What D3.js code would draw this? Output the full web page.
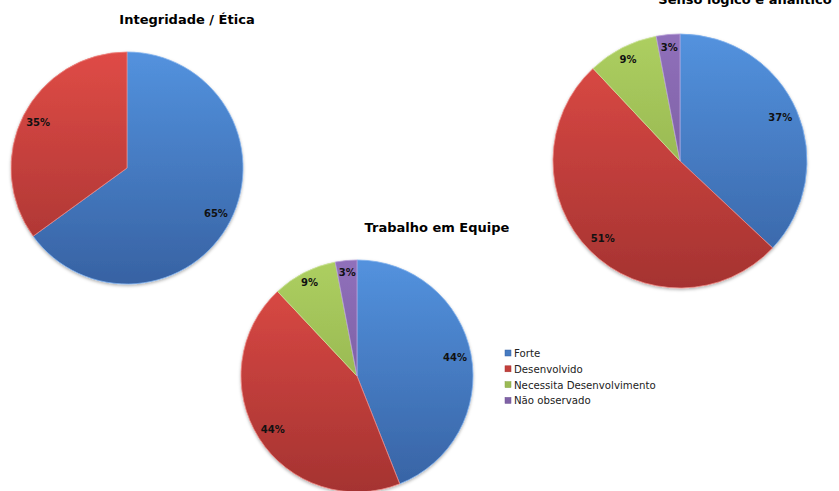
<!DOCTYPE html>
<html>
<head>
<meta charset="utf-8">
<script src="https://cdn.jsdelivr.net/npm/d3@7"></script>
<style>
  body { margin: 0; background: #fff; }
  svg { display: block; }
</style>
</head>
<body>
<svg id="chart" width="839" height="491"></svg>
<script>
// data
var categories = ["Forte", "Desenvolvido", "Necessita Desenvolvimento", "Não observado"];
var titles = ["Integridade / Ética", "Senso lógico e analítico", "Trabalho em Equipe"];
var integridadeValues = [65, 35, 0, 0];
var sensoValues = [37, 51, 9, 3];
var trabalhoValues = [44, 44, 9, 3];

// colours: [top, bottom, edge]
var palette = [
    ["#5392de", "#3762a3", "#7fb0ee"],
    ["#df4b46", "#a53331", "#ee8682"],
    ["#adcf60", "#87a548", "#cce39a"],
    ["#9070bb", "#6d5290", "#b8a0d8"]
];

var svg = d3.select("#chart");
var defs = svg.append("defs");

var shadow = defs.append("filter").attr("id", "shadow")
    .attr("x", "-10%").attr("y", "-10%").attr("width", "120%").attr("height", "120%");
shadow.append("feDropShadow")
    .attr("dx", 0).attr("dy", 1.5).attr("stdDeviation", 1.5)
    .attr("flood-color", "#000").attr("flood-opacity", 0.3);

// layout of the three pies
var pies = [
    {title: titles[0], values: integridadeValues, cx: 127, cy: 168, r: 116, tx: 187, ty: 24},
    {title: titles[1], values: sensoValues, cx: 680, cy: 161, r: 127, tx: 745, ty: 4},
    {title: titles[2], values: trabalhoValues, cx: 357, cy: 376, r: 116, tx: 437, ty: 232}
];

var pie = d3.pie().sort(null).value(function (d) { return d; });

pies.forEach(function (p, pi) {
    var g = svg.append("g").attr("transform", "translate(" + p.cx + "," + p.cy + ")");

    // vertical gradients spanning the whole pie
    palette.forEach(function (c, ci) {
        var grad = defs.append("linearGradient")
            .attr("id", "grad-" + pi + "-" + ci)
            .attr("gradientUnits", "userSpaceOnUse")
            .attr("x1", 0).attr("y1", -p.r).attr("x2", 0).attr("y2", p.r);
        grad.append("stop").attr("offset", "0%").attr("stop-color", c[0]);
        grad.append("stop").attr("offset", "100%").attr("stop-color", c[1]);
    });

    var arc = d3.arc().innerRadius(0).outerRadius(p.r);
    // small slices get their label pushed a bit further out
    var labelArc = d3.arc()
        .innerRadius(function (d) { return p.r * (d.data < 10 ? 0.9 : 0.86); })
        .outerRadius(function (d) { return p.r * (d.data < 10 ? 0.9 : 0.86); });
    var arcs = pie(p.values).filter(function (d) { return d.data > 0; });

    g.append("g")
        .attr("filter", "url(#shadow)")
        .selectAll("path")
        .data(arcs)
        .join("path")
        .attr("d", arc)
        .attr("fill", function (d) { return "url(#grad-" + pi + "-" + d.index + ")"; })
        .attr("stroke", function (d) { return palette[d.index][2]; })
        .attr("stroke-width", 0.8)
        .attr("stroke-linejoin", "round");

    g.selectAll(".pct")
        .data(arcs)
        .join("text")
        .attr("class", "pct")
        .attr("transform", function (d) { return "translate(" + labelArc.centroid(d) + ")"; })
        .attr("text-anchor", "middle")
        .attr("dy", "0.35em")
        .style("font-family", "'DejaVu Sans', Verdana, sans-serif")
        .style("font-weight", "bold")
        .style("font-size", "10px")
        .style("fill", "#111")
        .text(function (d) { return d.data + "%"; });

    svg.append("text")
        .attr("x", p.tx)
        .attr("y", p.ty)
        .attr("text-anchor", "middle")
        .style("font-family", "'DejaVu Sans', Verdana, sans-serif")
        .style("font-weight", "bold")
        .style("font-size", "13px")
        .style("fill", "#000")
        .text(p.title);
});

// legend
var legend = svg.append("g").attr("transform", "translate(505,357)");
var item = legend.selectAll("g")
    .data(categories)
    .join("g")
    .attr("transform", function (d, i) { return "translate(0," + (i * 15.8) + ")"; });
item.append("rect")
    .attr("x", 0).attr("y", -7)
    .attr("width", 6).attr("height", 6)
    .attr("fill", function (d, i) { return "url(#grad-0-" + i + ")"; })
    .attr("stroke", function (d, i) { return palette[i][1]; })
    .attr("stroke-width", 0.5);
item.append("text")
    .attr("x", 9)
    .attr("y", 0)
    .style("font-family", "'DejaVu Sans', Verdana, sans-serif")
    .style("font-size", "10.2px")
    .style("fill", "#222")
    .text(function (d) { return d; });
</script>
</body>
</html>
